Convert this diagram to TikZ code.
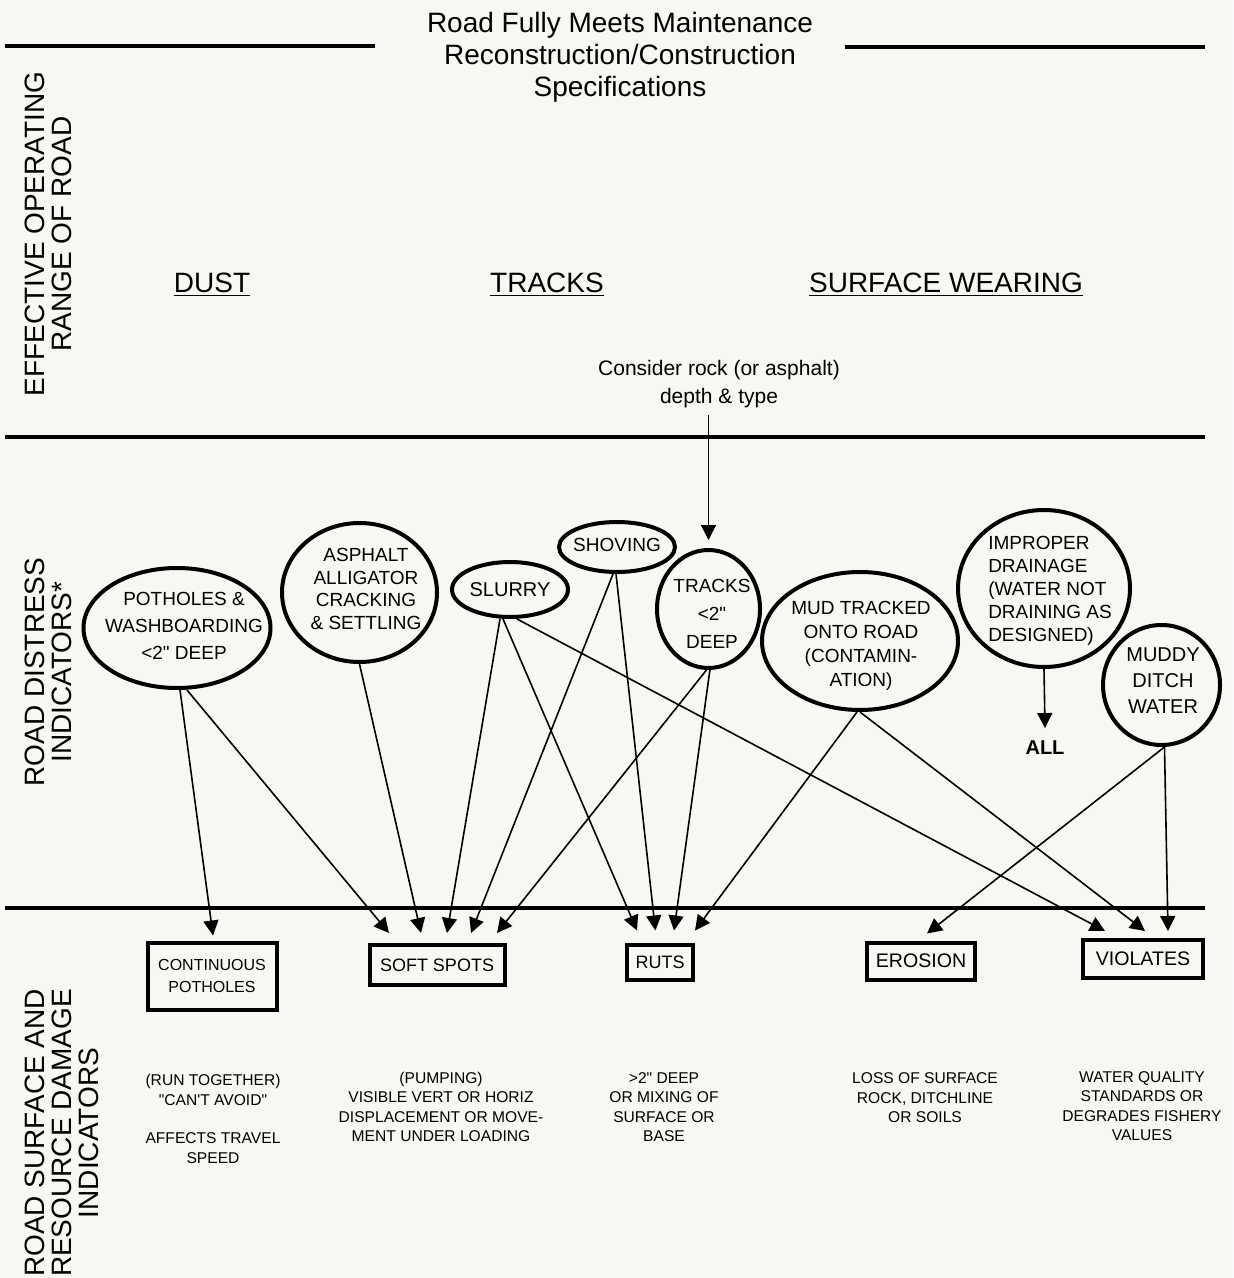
\documentclass[tikz,border=0pt]{standalone}
\usepackage{fontspec}
\setmainfont{Liberation Sans}[Ligatures=TeXOff]
\usetikzlibrary{shapes.geometric,arrows.meta}
\definecolor{paper}{RGB}{247,247,243}

\begin{document}
\begin{tikzpicture}[x=0.5pt,y=-0.5pt,
    rule/.style={line width=1.9pt},
    side/.style={rotate=90,align=center,font=\fontsize{14}{13.5}\selectfont},
    head/.style={align=center,font=\fontsize{14}{16}\selectfont},
    distress/.style={ellipse,draw,line width=2pt,inner sep=0pt},
    dtext/.style={align=center,font=\fontsize{9.5}{11.5}\selectfont},
    damage/.style={draw,line width=2pt,inner sep=0pt,align=center,font=\fontsize{9}{11}\selectfont},
    note/.style={align=center,font=\fontsize{7.8}{9.7}\selectfont},
    link/.style={line width=0.8pt,-{Triangle[length=7.5pt,width=7.5pt]}}]
  \fill[paper] (0,0) rectangle (1233,1278);
  \useasboundingbox (0,0) rectangle (1233,1278);

  \node[head] (title) at (620,57) {Road Fully Meets Maintenance\\Reconstruction/Construction\\Specifications};
  \draw[rule] (5,46) -- (375,46);
  \draw[rule] (845,47) -- (1205,47);
  \draw[rule] (5,437) -- (1205,437);
  \draw[rule] (5,908) -- (1205,908);

  \node[side] (range) at (48,234) {EFFECTIVE OPERATING\\RANGE OF ROAD};
  \node[side] (distr) at (48,672) {ROAD DISTRESS\\INDICATORS*};
  \node[side] (damage) at (62,1133) {ROAD SURFACE AND\\RESOURCE DAMAGE\\INDICATORS};

  \node[head] (dust) at (212,285) {\underline{DUST}};
  \node[head] (tracks) at (547,285) {\underline{TRACKS}};
  \node[head] (wear) at (946,285) {\underline{SURFACE WEARING}};
  \node[align=center,font=\fontsize{10.5}{14}\selectfont] (rock) at (719,384) {Consider rock (or asphalt)\\depth \& type};

  \node[distress,minimum width=93.5pt,minimum height=60pt] (pot) at (177,628) {};
  \node[dtext,font=\fontsize{9.5}{13.5}\selectfont] (pot-t) at (184,626) {POTHOLES \&\\WASHBOARDING\\<2" DEEP};
  \node[distress,minimum width=77.5pt,minimum height=69.5pt] (asph) at (359.5,592.5) {};
  \node[dtext,font=\fontsize{9.5}{11.2}\selectfont] (asph-t) at (366,589) {ASPHALT\\ALLIGATOR\\CRACKING\\\& SETTLING};
  \node[distress,minimum width=58pt,minimum height=27.5pt] (slurry) at (510,589.5) {};
  \node[dtext,font=\fontsize{10}{12}\selectfont] (slurry-t) at (510,589.5) {SLURRY};
  \node[distress,minimum width=58pt,minimum height=25pt] (shov) at (617,547) {};
  \node[dtext] (shov-t) at (617,545) {SHOVING};
  \node[distress,minimum width=51.5pt,minimum height=59pt] (trk) at (708.5,609) {};
  \node[dtext,font=\fontsize{9.5}{14}\selectfont] (trk-t) at (712,614) {TRACKS\\<2"\\DEEP};
  \node[distress,minimum width=98pt,minimum height=69pt] (mud) at (860,641) {};
  \node[dtext,font=\fontsize{9.5}{12}\selectfont] (mud-t) at (861,646) {MUD TRACKED\\ONTO ROAD\\(CONTAMIN-\\ATION)};
  \node[distress,minimum width=86pt,minimum height=78.5pt] (imp) at (1044,588.5) {};
  \node[dtext,align=left] (imp-t) at (1050,591) {IMPROPER\\DRAINAGE\\(WATER NOT\\DRAINING AS\\DESIGNED)};
  \node[distress,minimum width=58.5pt,minimum height=60pt] (muddy) at (1161.5,685) {};
  \node[dtext,font=\fontsize{10}{13}\selectfont] (muddy-t) at (1163,681) {MUDDY\\DITCH\\WATER};
  \node[font=\fontsize{10}{12}\selectfont\bfseries] (all) at (1045,748) {ALL};

  \node[damage,minimum width=64.5pt,minimum height=33.5pt,font=\fontsize{8}{11}\selectfont] (cont) at (212,976) {CONTINUOUS\\POTHOLES};
  \node[damage,minimum width=67.5pt,minimum height=20pt] (soft) at (437,965) {SOFT SPOTS};
  \node[damage,minimum width=33pt,minimum height=17.5pt] (ruts) at (660,962) {RUTS};
  \node[damage,minimum width=54pt,minimum height=18.5pt,font=\fontsize{9.8}{11}\selectfont] (eros) at (921,961) {EROSION};
  \node[damage,minimum width=60pt,minimum height=19pt,font=\fontsize{9.8}{11}\selectfont] (viol) at (1143,959) {VIOLATES};

  \node[note] (cont-n) at (213,1119) {(RUN TOGETHER)\\"CAN'T AVOID"\\[9.7pt]AFFECTS TRAVEL\\SPEED};
  \node[note] (soft-n) at (441,1107) {(PUMPING)\\VISIBLE VERT OR HORIZ\\DISPLACEMENT OR MOVE-\\MENT UNDER LOADING};
  \node[note] (ruts-n) at (664,1107) {>2" DEEP\\OR MIXING OF\\SURFACE OR\\BASE};
  \node[note] (eros-n) at (925,1098) {LOSS OF SURFACE\\ROCK, DITCHLINE\\OR SOILS};
  \node[note] (viol-n) at (1142,1106) {WATER QUALITY\\STANDARDS OR\\DEGRADES FISHERY\\VALUES};

  \draw[link] (rock.south -| trk.north) -- ([yshift=4pt]trk.north);
  \draw[link] (imp.south) -- ([yshift=3pt]all.north);

  \draw[link] ([xshift=1.5pt]pot.south) -- ([xshift=0.5pt,yshift=2.5pt]cont.north);
  \draw[link] ([xshift=5pt]pot.south) -- ([xshift=-24pt,yshift=5pt]soft.north);
  \draw[link] (asph.south) -- ([xshift=-8pt,yshift=5pt]soft.north);
  \draw[link] ([xshift=-5pt]slurry.south) -- ([xshift=5pt,yshift=5pt]soft.north);
  \draw[link] ([xshift=-3.5pt]slurry.south) -- ([xshift=-11.5pt,yshift=6pt]ruts.north);
  \draw[link] ([xshift=3.5pt]slurry.south) -- ([xshift=-19pt,yshift=3.5pt]viol.north);
  \draw[link] ([xshift=-2pt]shov.south) -- ([xshift=17pt,yshift=5pt]soft.north);
  \draw[link] ([xshift=-0.5pt]shov.south) -- ([xshift=-2.3pt,yshift=6pt]ruts.north);
  \draw[link] ([xshift=-1pt]trk.south) -- ([xshift=30pt,yshift=5pt]soft.north);
  \draw[link] ([xshift=0.7pt]trk.south) -- ([xshift=7pt,yshift=6pt]ruts.north);
  \draw[link] ([xshift=-1.5pt]mud.south) -- ([xshift=17.5pt,yshift=6pt]ruts.north);
  \draw[link] (mud.south) -- ([xshift=1pt,yshift=3.5pt]viol.north);
  \draw[link] ([xshift=1.5pt]muddy.south) -- ([xshift=3pt,yshift=3.5pt]eros.north);
  \draw[link] ([xshift=1.5pt]muddy.south) -- ([xshift=12.5pt,yshift=3.5pt]viol.north);
\end{tikzpicture}
\end{document}
